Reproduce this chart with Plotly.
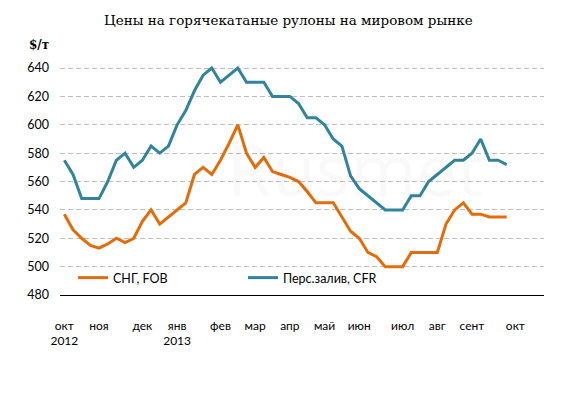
import plotly.graph_objects as go

week_index = list(range(52))
cis_fob = [537, 526, 520, 515, 513, 516, 520, 517, 520, 532,
           540, 530, 535, 540, 545, 565, 570, 565, 575, 587,
           600, 580, 570, 577, 567, 565, 563, 560, 553, 545,
           545, 545, 535, 525, 520, 510, 507, 500, 500, 500,
           510, 510, 510, 510, 530, 540, 545, 537, 537, 535,
           535, 535]
gulf_cfr = [575, 565, 548, 548, 548, 560, 575, 580, 570, 575,
            585, 580, 585, 600, 610, 624, 635, 640, 630, 635,
            640, 630, 630, 630, 620, 620, 620, 615, 605, 605,
            600, 590, 585, 564, 555, 550, 545, 540, 540, 540,
            550, 550, 560, 565, 570, 575, 575, 580, 590, 575,
            575, 572]
month_tick_pos = [0, 4, 9, 13, 18, 22, 26, 30, 34, 39, 43, 47, 52]
month_tick_text = ["окт<br>2012", "ноя", "дек", "янв<br>2013", "фев", "мар", "апр",
                   "май", "июн", "июл", "авг", "сент", "окт"]
y_ticks = [480, 500, 520, 540, 560, 580, 600, 620, 640]

ORANGE = "#E46C0A"
TEAL = "#31849B"
FONT = "Lato"

fig = go.Figure()
fig.add_trace(go.Scatter(x=week_index, y=cis_fob, mode="lines", name="СНГ, FOB",
                         line=dict(color=ORANGE, width=3)))
fig.add_trace(go.Scatter(x=week_index, y=gulf_cfr, mode="lines", name="Перс.залив, CFR",
                         line=dict(color=TEAL, width=3)))

fig.update_layout(
    width=579, height=396,
    margin=dict(l=60, r=35, t=61, b=101),
    paper_bgcolor="white", plot_bgcolor="white",
    font=dict(family=FONT, size=12, color="#000000"),
    title=dict(text="Цены на горячекатаные рулоны на мировом рынке",
               font=dict(family="DejaVu Serif", size=13.5, color="#000000"),
               x=0.498, xanchor="center", y=1 - 20 / 396, yanchor="middle"),
    showlegend=True,
    legend=dict(orientation="h", x=(73 - 60) / 484, xanchor="left",
                y=(295 - 278) / 234, yanchor="middle",
                bgcolor="rgba(0,0,0,0)", entrywidth=125, entrywidthmode="pixels",
                font=dict(family=FONT, size=12.5), itemclick=False),
    xaxis=dict(range=[-0.5, 55.3], tickmode="array", tickvals=month_tick_pos,
               ticktext=month_tick_text, showgrid=False, zeroline=False,
               showline=True, linecolor="#000000", linewidth=1.3,
               ticks="", ticklabelstandoff=19, tickangle=0,
               tickfont=dict(family=FONT, size=12)),
    yaxis=dict(range=[480, 645], tickmode="array", tickvals=y_ticks,
               showgrid=True, gridcolor="#BFBFBF", griddash="5px,3px", gridwidth=1,
               zeroline=False, showline=False, ticks="", ticklabelstandoff=10,
               tickfont=dict(family=FONT, size=12.5)),
)

fig.add_annotation(text="<b>$/т</b>", xref="paper", yref="paper",
                   x=(38.5 - 60) / 484, y=(295 - 45) / 234, xanchor="center", yanchor="middle",
                   showarrow=False, font=dict(family="DejaVu Serif", size=12, color="#000000"))
fig.add_annotation(text="Rusmet", xref="paper", yref="paper",
                   x=(225 - 60) / 484, y=(295 - 168) / 234, xanchor="left", yanchor="middle",
                   showarrow=False, font=dict(family="Open Sans", size=72, color="rgba(0,0,0,0.025)"))

fig.write_html("out.html", config={"displayModeBar": False},
               post_script="document.body.style.margin='0';")
